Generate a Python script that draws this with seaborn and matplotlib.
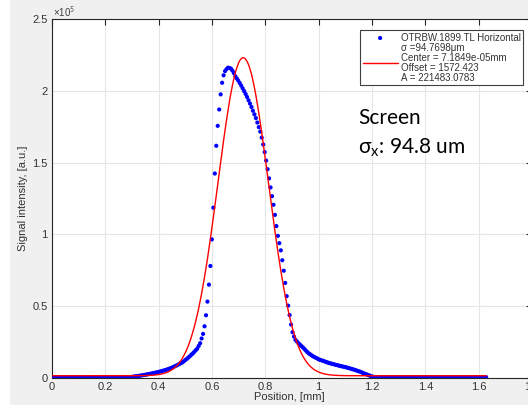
import numpy as np
import matplotlib
matplotlib.use("Agg")
import matplotlib.pyplot as plt
from matplotlib.patches import Rectangle
from matplotlib.ticker import FuncFormatter
import seaborn as sns

# camera pixel pitch along the profile, mm
PIXEL_MM = 0.0055

# measured horizontal profile, thousands of counts, one value per pixel
signal_k = [
    0.5, 0.5, 0.5, 0.5, 0.5, 0.5, 0.5, 0.5, 0.5, 0.5,
    0.5, 0.5, 0.5, 0.5, 0.5, 0.5, 0.5, 0.5, 0.5, 0.5,
    0.5, 0.5, 0.5, 0.5, 0.5, 0.5, 0.5, 0.5, 0.5, 0.5,
    0.5, 0.5, 0.5, 0.5, 0.5, 0.5, 0.5, 0.5, 0.5, 0.5,
    0.5, 0.5, 0.5, 0.5, 0.5, 0.5, 0.5, 0.5, 0.5, 0.5,
    0.5, 0.5, 0.5, 0.5, 0.5, 0.87, 1.01, 1.16, 1.31, 1.45,
    1.60, 1.78, 1.97, 2.15, 2.33, 2.52, 2.72, 2.94, 3.16, 3.38,
    3.60, 3.82, 4.04, 4.28, 4.57, 4.87, 5.16, 5.45, 5.75, 6.11,
    6.50, 6.88, 7.29, 7.78, 8.28, 8.78, 9.3, 9.85, 10.4, 10.95,
    11.75, 12.6, 13.4, 14.3, 15.2, 16.2, 17.1, 18.2, 19.3, 20.4,
    22.3, 24.2, 27.5, 30.7, 36.0, 43.7, 53.2, 65.0, 78.0, 96.5,
    118.6, 142.4, 161.7, 175.6, 187.0, 197.5, 205.6, 210.8, 213.7, 215.1,
    216.1, 215.9, 215.4, 214.1, 212.4, 210.1, 208.6, 207.1, 205.4, 203.6,
    201.7, 199.8, 197.8, 195.7, 193.4, 191.1, 188.7, 186.1, 183.6, 181.0,
    177.9, 174.7, 171.6, 167.4, 162.6, 157.3, 151.4, 145.4, 139.0, 132.7,
    126.6, 120.6, 113.6, 105.8, 99.0, 93.9, 88.9, 82.0, 74.7, 66.2,
    57.0, 50.4, 43.8, 37.2, 31.9, 28.9, 26.6, 25.4, 24.2, 23.3,
    22.3, 21.4, 20.3, 19.2, 18.1, 17.2, 16.5, 15.8, 15.1, 14.6,
    14.0, 13.5, 12.9, 12.6, 12.2, 11.9, 11.5, 11.1, 10.8, 10.4,
    10.15, 9.9, 9.6, 9.3, 9.05, 8.8, 8.5, 8.25, 8.05, 7.8,
    7.6, 7.3, 7.0, 6.7, 6.4, 6.1, 5.8, 5.45, 5.1, 4.75,
    4.4, 4.0, 3.5, 3.1, 2.7, 2.3, 1.95, 1.5, 1.1, 0.85,
    0.7, 0.6, 0.6, 0.6, 0.6, 0.6, 0.6, 0.6, 0.6, 0.6,
    0.6, 0.6, 0.6, 0.6, 0.6, 0.6, 0.6, 0.6, 0.6, 0.6,
    0.6, 0.6, 0.6, 0.6, 0.6, 0.6, 0.6, 0.6, 0.6, 0.6,
    0.6, 0.6, 0.6, 0.6, 0.6, 0.6, 0.6, 0.6, 0.6, 0.6,
    0.6, 0.6, 0.6, 0.6, 0.6, 0.6, 0.6, 0.6, 0.6, 0.6,
    0.6, 0.6, 0.6, 0.6, 0.6, 0.6, 0.6, 0.6, 0.6, 0.6,
    0.6, 0.6, 0.6, 0.6, 0.6, 0.6, 0.6, 0.6, 0.6, 0.6,
    0.6, 0.6, 0.6, 0.6, 0.6, 0.6, 0.6,
]

# gaussian fit parameters (from the legend; centre)
FIT_SIGMA_MM = 0.0947698
FIT_CENTER_MM = 0.717
FIT_OFFSET = 1572.423
FIT_A = 221483.0783

legend_labels = [
    "OTRBW.1899.TL Horizontal",
    "σ =94.7698μm\nCenter = 7.1849e-05mm\nOffset = 1572.423\nA = 221483.0783",
]
x_ticks = [0, 0.2, 0.4, 0.6, 0.8, 1, 1.2, 1.4, 1.6, 1.8]
y_ticks = [0, 0.5, 1, 1.5, 2, 2.5]

sns.set_style("white")
plt.rcParams['font.family'] = ['Liberation Sans', 'DejaVu Sans']
plt.rcParams['mathtext.fontset'] = 'custom'
plt.rcParams['mathtext.rm'] = 'Lato'

pos = np.arange(len(signal_k)) * PIXEL_MM
signal = np.array(signal_k) * 1e3
fit = FIT_A * np.exp(-(pos - FIT_CENTER_MM) ** 2 / (2 * FIT_SIGMA_MM ** 2)) + FIT_OFFSET

W, H = 528, 405
fig = plt.figure(figsize=(W / 100, H / 100), dpi=100, facecolor='#f0f0f0')
fig.patches.append(Rectangle((0, 0), 10 / W, 1, transform=fig.transFigure,
                             facecolor='white', edgecolor='none', zorder=-5))
ax = fig.add_axes([52 / W, 27 / H, 480 / W, 359 / H])

sns.scatterplot(x=pos, y=signal / 1e5, ax=ax, color='#0000ff', s=9,
                edgecolor='none', label=legend_labels[0], zorder=3)
sns.lineplot(x=pos, y=fit / 1e5, ax=ax, color='#ff0000', lw=1.0,
             label=legend_labels[1], zorder=4)

ax.set_xlim(0, 1.8)
ax.set_ylim(0, 2.5)
ax.set_xticks(x_ticks)
ax.set_yticks(y_ticks)
fmt = FuncFormatter(lambda v, p: f"{v:g}")
ax.xaxis.set_major_formatter(fmt)
ax.yaxis.set_major_formatter(fmt)
ax.tick_params(direction='in', length=4, width=0.8, top=True, right=True,
               color='#262626', labelcolor='#333333', labelsize=8, pad=3)
ax.grid(True, color='#e6e6e6', lw=0.8)
ax.set_axisbelow(True)
for sp in ax.spines.values():
    sp.set_color('#262626')
    sp.set_linewidth(0.8)

ax.set_xlabel("Position, [mm]", fontsize=8, color='#333333')
ax.set_ylabel("Signal intensity, [a.u.]", fontsize=8, color='#333333')
ax.xaxis.set_label_coords(0.494, -0.04)
ax.yaxis.set_label_coords(-0.05, 0.5)
fig.text(53 / W, 1 - 12 / H, "×10$^{5}$", fontsize=7, color='#404040',
         family='Liberation Sans', ha='left', va='center')

leg = ax.legend(loc='upper right', bbox_to_anchor=(0.981, 0.969), borderaxespad=0,
                fontsize=7, frameon=True, fancybox=False, edgecolor='#404040',
                framealpha=1, handlelength=3.6, handletextpad=0.3,
                labelspacing=0.0, borderpad=0.25)
leg.get_frame().set_linewidth(0.8)
for t in leg.get_texts():
    t.set_color('#333333')
    t.set_linespacing(1.0)

fig.text(358 / W, 1 - 124 / H, "Screen", fontsize=15, family='Lato',
         ha='left', va='baseline', color='black')
fig.text(358 / W, 1 - 153 / H, "σ$_{\\mathrm{x}}$: 94.8 um", fontsize=15, family='Lato',
         ha='left', va='baseline', color='black')

fig.savefig("out.png", dpi=100, facecolor=fig.get_facecolor())
